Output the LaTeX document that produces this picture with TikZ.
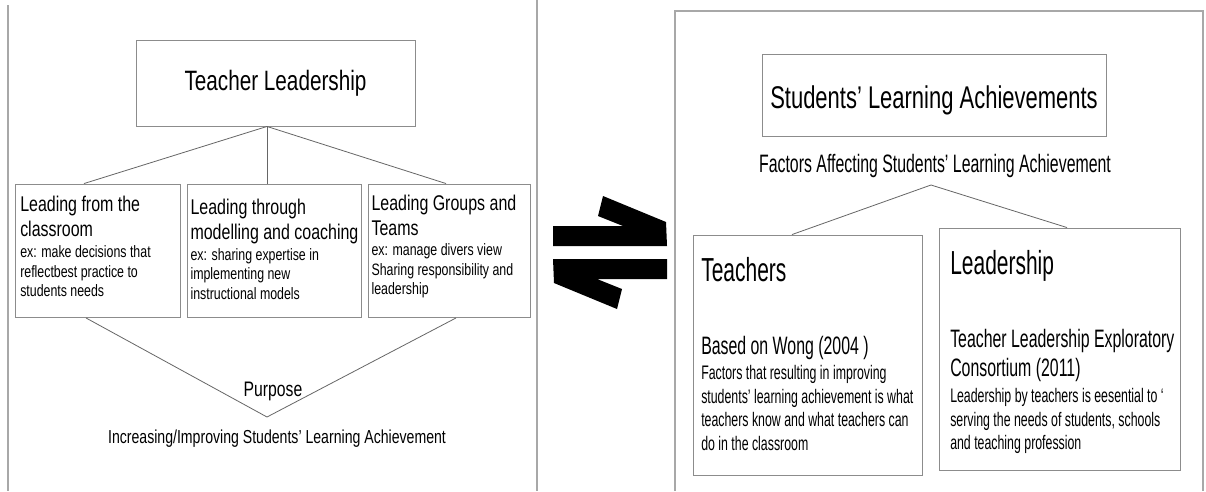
\documentclass[tikz,border=0pt]{standalone}
\usepackage{fontspec}
\setmainfont[FakeStretch=0.75]{Liberation Sans}
\newfontfamily\tlfont[FakeStretch=0.74, Ligatures=TeX]{Liberation Sans}
\newfontfamily\slafont[FakeStretch=0.7, Ligatures=TeX]{Liberation Sans}
\newfontfamily\rightfont[FakeStretch=0.63, Ligatures=TeX]{Liberation Sans}
\usepackage{tikz}

\definecolor{framegray}{HTML}{A8A8A8}
\definecolor{boxgray}{HTML}{8C8C8C}
\definecolor{linkgray}{HTML}{666666}

\begin{document}
\begin{tikzpicture}[x=1pt, y=-1pt, every node/.style={inner sep=0pt, text=black},
    box/.style={draw=boxgray, line width=0.9pt},
    link/.style={draw=linkgray, line width=0.8pt},
    frame/.style={draw=framegray, line width=1.2pt},
    head/.style={font=\fontsize{21.3}{25}\selectfont, align=left, anchor=north west},
    note/.style={font=\fontsize{16.5}{19.3}\selectfont, align=left, anchor=north west},
    rhead/.style={font=\rightfont\fontsize{33.3}{38}\selectfont, anchor=north west},
    rref/.style={font=\rightfont\fontsize{25.2}{29.3}\selectfont, align=left, anchor=north west},
    rnote/.style={font=\rightfont\fontsize{19.6}{23.5}\selectfont, align=left, anchor=north west}]
        \useasboundingbox (0,0) rectangle (1206,491);
        \fill[white] (0,0) rectangle (1206,491);

        % panels
        \draw[frame] (8,5) -- (8,491);
        \draw[frame] (537,0) -- (537,491);
        \draw[frame] (675,491) -- (675,11) -- (1203,11) -- (1203,491);

        % teacher leadership
        \node[box, font=\tlfont\fontsize{28}{32}\selectfont, minimum width=279pt, minimum height=86pt] (tl) at (275.5,83) {Teacher Leadership};
        \node[box, minimum width=165pt, minimum height=133.5pt] (lead1) at (97.5,250.75) {};
        \node[box, minimum width=174pt, minimum height=133.5pt] (lead2) at (274,250.75) {};
        \node[box, minimum width=162pt, minimum height=133.5pt] (lead3) at (449,250.75) {};

        \node[head] (lead1 head) at ([shift={(5.5,12.8)}]lead1.north west) {Leading from the\\classroom};
        \node[note] (lead1 note) at ([shift={(5.5,62)}]lead1.north west) {ex: make decisions that\\reflectbest practice to\\students needs};
        \node[head] (lead2 head) at ([shift={(3.8,15.7)}]lead2.north west) {Leading through\\modelling and coaching};
        \node[note] (lead2 note) at ([shift={(3.8,64.8)}]lead2.north west) {ex: sharing expertise in\\implementing new\\instructional models};
        \node[head] (lead3 head) at ([shift={(3.8,11)}]lead3.north west) {Leading Groups and\\Teams};
        \node[note] (lead3 note) at ([shift={(3.8,60)}]lead3.north west) {ex: manage divers view\\Sharing responsibility and\\leadership};

        \coordinate (tip) at (267,417);
        \node[font=\fontsize{21}{25}\selectfont] (purpose) at (273,391) {Purpose};
        \node[font=\fontsize{18.8}{22}\selectfont] (goal) at (277,439) {Increasing/Improving Students' Learning Achievement};

        \draw[link] ([xshift=-8.5pt]tl.south) -- ([xshift=-13.5pt]lead1.north);
        \draw[link] ([xshift=-8.5pt]tl.south) -- ([xshift=-7pt]lead2.north);
        \draw[link] ([xshift=-8.5pt]tl.south) -- ([xshift=-3pt]lead3.north);
        \draw[link] ([xshift=-11.5pt]lead1.south) -- (tip) -- ([xshift=7pt]lead3.south);

        % arrows
        \fill[black] (667,246) -- (553,246) -- (553,226) -- (623,226) -- (598,216) -- (603,196) -- (666,222) -- cycle;
        \fill[black] (553,259) -- (667,259) -- (667,279) -- (597,279) -- (622,289) -- (617,309) -- (554,283) -- cycle;

        % students achievements
        \node[box, minimum width=344pt, minimum height=82pt] (sla) at (934,95) {};
        \node[font=\slafont\fontsize{31.4}{36}\selectfont] (sla text) at (934,100) {Students' Learning Achievements};
        \node[font=\rightfont\fontsize{25.2}{29}\selectfont] (factors) at (935,166) {Factors Affecting Students' Learning Achievement};
        \coordinate (apex) at (931,185);

        \node[box, minimum width=229pt, minimum height=240pt] (teach) at (807.5,355) {};
        \node[box, minimum width=241pt, minimum height=242pt] (lship) at (1059.5,349) {};

        \node[rhead] (teach head) at ([shift={(8.5,22.8)}]teach.north west) {Teachers};
        \node[rref] (teach ref) at ([shift={(8.5,101.7)}]teach.north west) {Based on Wong (2004 )};
        \node[rnote] (teach note) at ([shift={(8.5,130.8)}]teach.north west) {Factors that resulting in improving\\students' learning achievement is what\\teachers know and what teachers can\\do in the classroom};

        \node[rhead] (lship head) at ([shift={(11.5,22.5)}]lship.north west) {Leadership};
        \node[rref] (lship ref) at ([shift={(11.5,101.4)}]lship.north west) {Teacher Leadership Exploratory\\Consortium (2011)};
        \node[rnote] (lship note) at ([shift={(11.5,160.8)}]lship.north west) {Leadership by teachers is eesential to `\\serving the needs of students, schools\\and teaching profession};

        \draw[link] (apex) -- ([xshift=-15.5pt]teach.north);
        \draw[link] (apex) -- ([xshift=7.5pt]lship.north);
    \end{tikzpicture}
\end{document}
